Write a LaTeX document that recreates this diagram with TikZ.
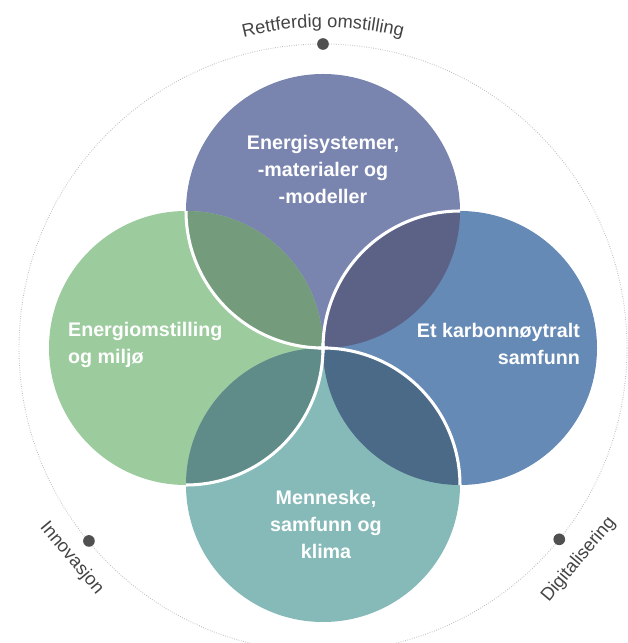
\documentclass[tikz,border=0pt]{standalone}
\usepackage{fontspec}
\setmainfont{Liberation Sans}
\usetikzlibrary{decorations.text}

\definecolor{syscol}{HTML}{7A85AF}
\definecolor{omstcol}{HTML}{9CCB9E}
\definecolor{karbcol}{HTML}{658AB5}
\definecolor{klimacol}{HTML}{86BAB8}
\definecolor{sysomst}{HTML}{739B7C}
\definecolor{syskarb}{HTML}{5C6285}
\definecolor{karbklima}{HTML}{4B6A88}
\definecolor{klimaomst}{HTML}{5F8C89}
\definecolor{labelgrey}{HTML}{444444}
\definecolor{markgrey}{HTML}{505050}
\definecolor{ringgrey}{HTML}{BBBBBB}

\newcommand{\ringfont}{\fontsize{15.6}{18}\selectfont}
\def\rad{4.11}

\tikzset{
  area/.style={text=white, font=\bfseries\fontsize{16.8}{23}\selectfont},
  seam/.style={white, line width=2.6pt},
  ring/.style={ringgrey, line width=0.8pt, dash pattern=on 0.6pt off 1.4pt},
  dotmark/.style={circle, fill=markgrey, inner sep=0pt, minimum size=0.35cm},
  ringlabel/.style={text=labelgrey, font=\ringfont},
}

\begin{document}
\begin{tikzpicture}
    \useasboundingbox (-9.69,-8.85) rectangle (9.12,10.44);

    % centres
    \coordinate (o) at (0,0);
    \coordinate (tc) at (0,\rad);
    \coordinate (lc) at (-\rad,0);
    \coordinate (rc) at (\rad,0);
    \coordinate (bc) at (0,-\rad);

    % outer ring
    \draw[ring] (o) circle (9.12);
    \node[dotmark] (rett) at (90:9.12) {};
    \node[dotmark] (inno) at (219.5:9.1) {};
    \node[dotmark] (digi) at (-39:9.12) {};

    % circles
    \fill[syscol] (tc) circle (\rad);
    \fill[omstcol] (lc) circle (\rad);
    \fill[karbcol] (rc) circle (\rad);
    \fill[klimacol] (bc) circle (\rad);

    % overlaps
    \begin{scope}
        \clip (tc) circle (\rad);
        \fill[sysomst] (lc) circle (\rad);
        \fill[syskarb] (rc) circle (\rad);
    \end{scope}
    \begin{scope}
        \clip (bc) circle (\rad);
        \fill[klimaomst] (lc) circle (\rad);
        \fill[karbklima] (rc) circle (\rad);
    \end{scope}

    % white seams
    \draw[seam] ([shift={(180:\rad)}]tc) arc[start angle=180, end angle=272, radius=\rad];
    \draw[seam] ([shift={(90:\rad)}]rc) arc[start angle=90, end angle=182, radius=\rad];
    \draw[seam] ([shift={(0:\rad)}]bc) arc[start angle=0, end angle=92, radius=\rad];
    \draw[seam] ([shift={(270:\rad)}]lc) arc[start angle=270, end angle=362, radius=\rad];

    % texts
    \node[area, align=center] (sys) at (0,5.36) {Energisystemer,\\-materialer og\\-modeller};
    \node[area, align=left, anchor=west] (omst) at (-7.77,0.1) {Energiomstilling\\og miljø};
    \node[area, align=right, anchor=east] (karb) at (7.83,0.12) {Et karbonnøytralt\\samfunn};
    \node[area, align=center] (klima) at (0.09,-5.3) {Menneske,\\samfunn og\\klima};

    % ring labels
    \path[decorate, decoration={text along path, text align=center,
        text={|\color{labelgrey}\ringfont|Rettferdig omstilling}}]
        (113:9.62) arc[start angle=113, end angle=67, radius=9.62];
    \node[ringlabel, rotate=-50] (innol) at (219.9:9.83) {Innovasjon};
    \node[ringlabel, rotate=50] (digil) at (-39.6:9.96) {Digitalisering};
\end{tikzpicture}
\end{document}
